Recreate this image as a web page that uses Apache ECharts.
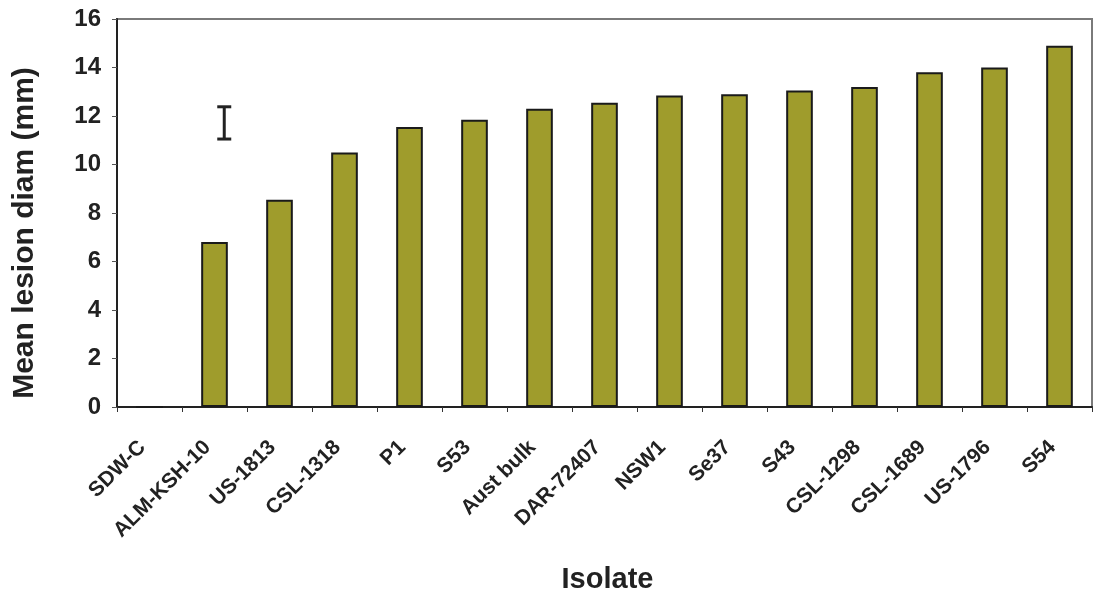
<!DOCTYPE html>
<html>
<head>
<meta charset="utf-8">
<script src="https://cdn.jsdelivr.net/npm/echarts@6/dist/echarts.min.js"></script>
<style>
  html, body { margin: 0; padding: 0; background: #fff; }
  #chart { width: 1098px; height: 593px; }
</style>
</head>
<body>
<div id="chart"></div>
<script>
var isolates = ['SDW-C', 'ALM-KSH-10', 'US-1813', 'CSL-1318', 'P1', 'S53', 'Aust bulk',
    'DAR-72407', 'NSW1', 'Se37', 'S43', 'CSL-1298', 'CSL-1689', 'US-1796', 'S54'];
var lesionDiam = [0, 6.8, 8.55, 10.5, 11.55, 11.85, 12.3, 12.55, 12.85, 12.9, 13.05, 13.2, 13.8, 14.0, 14.9];
var yTicks = [0, 2, 4, 6, 8, 10, 12, 14, 16];
// LSD bar drawn beside the second isolate
var lsdBar = [[1, 11.05, 12.38]];

var font = 'Liberation Sans, Arial, sans-serif';

var chart = echarts.init(document.getElementById('chart'));

option = {
    animation: false,
    grid: {
        left: 117,
        right: 6,
        top: 19,
        bottom: 186,
        outerBoundsMode: 'none',
        show: true,
        borderColor: '#7a7a7a',
        borderWidth: 2
    },
    xAxis: {
        type: 'category',
        data: isolates,
        name: 'Isolate',
        nameLocation: 'middle',
        nameGap: 158,
        nameTextStyle: { fontFamily: font, fontWeight: 'bold', fontSize: 29, color: '#222', padding: [0, 0, 0, 6] },
        axisLine: { lineStyle: { color: '#222', width: 2 } },
        axisTick: { show: true, length: 5, lineStyle: { color: '#333' } },
        axisLabel: {
            interval: 0,
            rotate: 45,
            margin: 30,
            padding: [0, 10, 0, 0],
            fontFamily: font,
            fontWeight: 'bold',
            fontSize: 21,
            color: '#222'
        }
    },
    yAxis: {
        type: 'value',
        min: yTicks[0],
        max: yTicks[yTicks.length - 1],
        interval: 2,
        name: 'Mean lesion diam (mm)',
        nameLocation: 'middle',
        nameGap: 77,
        nameTextStyle: { fontFamily: font, fontWeight: 'bold', fontSize: 30, color: '#222', padding: [0, 40, 0, 0] },
        axisLine: { show: true, lineStyle: { color: '#222', width: 2 } },
        axisTick: { show: true, length: 5, lineStyle: { color: '#555' } },
        splitLine: { show: false },
        axisLabel: {
            margin: 16,
            fontFamily: font,
            fontWeight: 'bold',
            fontSize: 24,
            color: '#222'
        }
    },
    series: [
        {
            type: 'bar',
            data: lesionDiam,
            barWidth: '41%',
            itemStyle: {
                color: '#9f9c2c',
                borderColor: '#1a1a1a',
                borderWidth: 2
            }
        },
        {
            type: 'custom',
            data: lsdBar,
            renderItem: function (params, api) {
                var lo = api.coord([api.value(0), api.value(1)]);
                var hi = api.coord([api.value(0), api.value(2)]);
                var band = api.size([1, 0])[0];
                var x = lo[0] + band * 0.15;
                var cap = 7;
                var style = { stroke: '#222', lineWidth: 3 };
                return {
                    type: 'group',
                    children: [
                        { type: 'line', shape: { x1: x, y1: hi[1], x2: x, y2: lo[1] }, style: style },
                        { type: 'line', shape: { x1: x - cap, y1: hi[1], x2: x + cap, y2: hi[1] }, style: style },
                        { type: 'line', shape: { x1: x - cap, y1: lo[1], x2: x + cap, y2: lo[1] }, style: style }
                    ]
                };
            }
        }
    ]
};

chart.setOption(option);
</script>
</body>
</html>
